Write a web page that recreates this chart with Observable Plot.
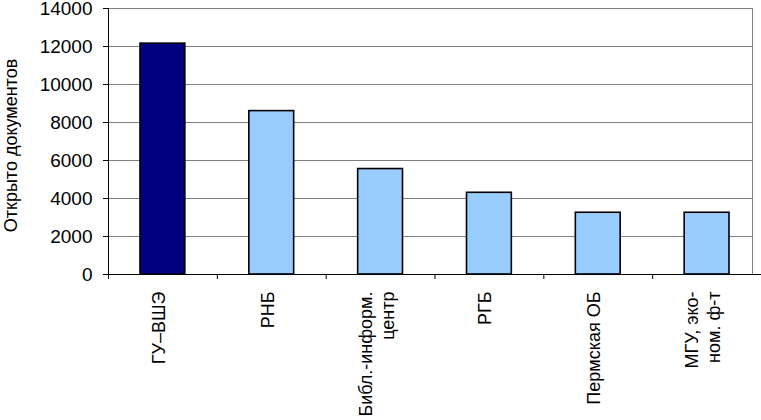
<!DOCTYPE html>
<html><head><meta charset="utf-8">
<script src="https://cdn.jsdelivr.net/npm/d3@7"></script>
<script src="https://cdn.jsdelivr.net/npm/@observablehq/plot@0.6"></script>
<style>body{margin:0;background:#fff}</style>
</head><body><div id="chart"></div>
<script>
const categories = ["ГУ–ВШЭ", "РНБ", "Библ.-информ.\nцентр", "РГБ", "Пермская ОБ", "МГУ, эко-\nном. ф-т"];
const values = [12150, 8600, 5550, 4300, 3250, 3250];
const highlighted = ["ГУ–ВШЭ"];
const yTicks = [0, 2000, 4000, 6000, 8000, 10000, 12000, 14000];
const yLabel = "Открыто документов";

const data = categories.map((c, i) => ({i, c, v: values[i], hi: highlighted.includes(c)}));
const boundaries = d3.range(0, categories.length);

const chart = Plot.plot({
  width: 761, height: 420,
  marginLeft: 108, marginRight: 0, marginTop: 8, marginBottom: 146,
  style: {fontFamily: "'Liberation Sans', Arial, sans-serif", fontSize: "18px", background: "#fff", color: "#000", overflow: "visible"},
  x: {domain: [0, categories.length], axis: null},
  y: {domain: [0, 14000], axis: null},
  marks: [
    Plot.gridY(yTicks, {stroke: "#808080", strokeOpacity: 1, insetRight: 9}),
    Plot.frame({stroke: "#808080", insetRight: 9}),
    Plot.rectY(data, {x1: d => d.i, x2: d => d.i + 1, y: "v", insetLeft: 32, insetRight: 32,
      fill: d => d.hi ? "#000080" : "#99CCFF", stroke: "#000", strokeWidth: 1.6}),
    Plot.axisY({ticks: yTicks, tickSize: 5, tickFormat: () => "", label: null}),
    Plot.text(yTicks, {y: d => d, text: d => String(d), frameAnchor: "left", textAnchor: "end",
      dx: -16, fontSize: 19}),
    Plot.text([yLabel], {frameAnchor: "left", textAnchor: "middle", rotate: -90, dx: -97, dy: 4, fontSize: 18}),
    Plot.ruleX([0], {y1: 0, y2: 14000, stroke: "#000"}),
    Plot.ruleY([0], {stroke: "#000"}),
    Plot.axisX({ticks: boundaries, tickSize: 5, tickFormat: () => "", label: null}),
    Plot.text(data, {x: d => d.i + 0.5, y: 0, text: "c", rotate: -90, textAnchor: "end",
      dx: -5, dy: 17, lineHeight: 1.22, fontSize: 18})
  ]
});
document.getElementById("chart").appendChild(chart);
</script>
</body></html>
